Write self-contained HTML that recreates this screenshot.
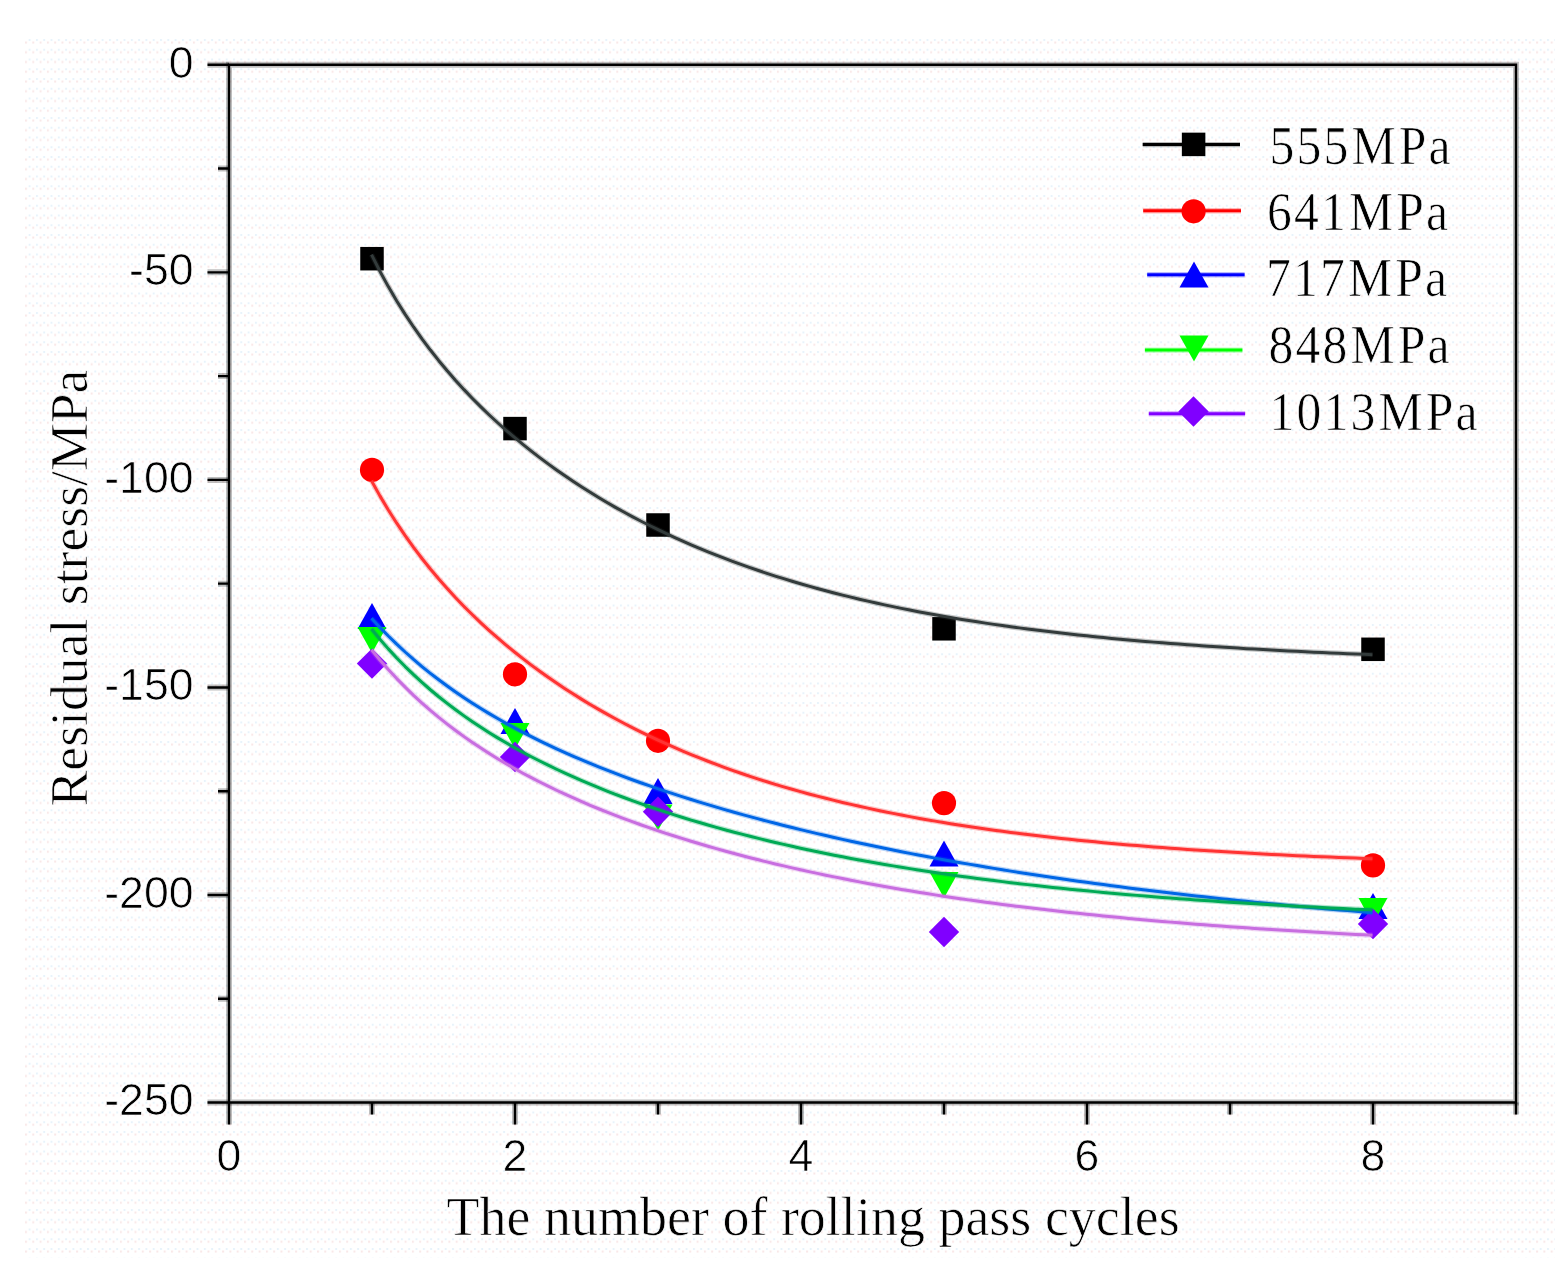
<!DOCTYPE html>
<html><head><meta charset="utf-8"><title>Residual stress vs rolling pass cycles</title>
<style>html,body{margin:0;padding:0;background:#fff;}svg{display:block;}</style></head>
<body>
<svg width="1561" height="1277" viewBox="0 0 1561 1277"><style>.t{stroke:#fff;stroke-width:0.7px;paint-order:fill stroke;}</style>
<rect width="1561" height="1277" fill="#fff"/>
<defs><pattern id="dots" x="25" y="39" width="7.3" height="9.75" patternUnits="userSpaceOnUse"><rect x="0" y="2.5" width="2" height="2" fill="#f9e7e7"/><rect x="3.6" y="0" width="2" height="2" fill="#e8f3fb"/></pattern></defs>
<rect x="25" y="39" width="1530" height="1219" fill="url(#dots)"/>
<rect x="360.25" y="246.95" width="23.5" height="23.5" fill="#000000"/>
<rect x="503.25" y="416.85" width="23.5" height="23.5" fill="#000000"/>
<rect x="646.25" y="513.25" width="23.5" height="23.5" fill="#000000"/>
<rect x="932.25" y="617.05" width="23.5" height="23.5" fill="#000000"/>
<rect x="1361.25" y="637.55" width="23.5" height="23.5" fill="#000000"/>
<circle cx="372.00" cy="469.90" r="12.1" fill="#ff0000"/>
<circle cx="515.00" cy="674.30" r="12.1" fill="#ff0000"/>
<circle cx="658.00" cy="740.80" r="12.1" fill="#ff0000"/>
<circle cx="944.00" cy="803.10" r="12.1" fill="#ff0000"/>
<circle cx="1373.00" cy="865.40" r="12.1" fill="#ff0000"/>
<polygon points="372.00,603.00 386.50,629.00 357.50,629.00" fill="#0000ff"/>
<polygon points="515.00,708.00 529.50,734.00 500.50,734.00" fill="#0000ff"/>
<polygon points="658.00,778.00 672.50,804.00 643.50,804.00" fill="#0000ff"/>
<polygon points="944.00,840.60 958.50,866.60 929.50,866.60" fill="#0000ff"/>
<polygon points="1373.00,893.00 1387.50,919.00 1358.50,919.00" fill="#0000ff"/>
<polygon points="357.50,627.00 386.50,627.00 372.00,653.00" fill="#00ff00"/>
<polygon points="500.50,723.00 529.50,723.00 515.00,749.00" fill="#00ff00"/>
<polygon points="643.50,804.50 672.50,804.50 658.00,830.50" fill="#00ff00"/>
<polygon points="929.50,872.00 958.50,872.00 944.00,898.00" fill="#00ff00"/>
<polygon points="1358.50,898.00 1387.50,898.00 1373.00,924.00" fill="#00ff00"/>
<polygon points="372.00,648.40 387.20,663.60 372.00,678.80 356.80,663.60" fill="#8000ff"/>
<polygon points="515.00,741.80 530.20,757.00 515.00,772.20 499.80,757.00" fill="#8000ff"/>
<polygon points="658.00,796.50 673.20,811.70 658.00,826.90 642.80,811.70" fill="#8000ff"/>
<polygon points="944.00,916.80 959.20,932.00 944.00,947.20 928.80,932.00" fill="#8000ff"/>
<polygon points="1373.00,908.80 1388.20,924.00 1373.00,939.20 1357.80,924.00" fill="#8000ff"/>
<polyline points="371.50,254.60 379.91,271.20 388.32,286.60 396.74,300.95 405.15,314.37 413.56,326.97 421.97,338.84 430.38,350.05 438.79,360.69 447.21,370.80 455.62,380.44 464.03,389.64 472.44,398.44 480.85,406.88 489.26,414.98 497.68,422.76 506.09,430.26 514.50,437.48 522.91,444.44 531.32,451.16 539.74,457.65 548.15,463.92 556.56,469.98 564.97,475.85 573.38,481.53 581.79,487.03 590.21,492.35 598.62,497.51 607.03,502.50 615.44,507.35 623.85,512.04 632.26,516.59 640.68,521.01 649.09,525.28 657.50,529.43 665.91,533.46 674.32,537.36 682.74,541.15 691.15,544.83 699.56,548.39 707.97,551.85 716.38,555.20 724.79,558.46 733.21,561.62 741.62,564.68 750.03,567.65 758.44,570.54 766.85,573.34 775.26,576.06 783.68,578.69 792.09,581.25 800.50,583.74 808.91,586.14 817.32,588.48 825.74,590.75 834.15,592.95 842.56,595.09 850.97,597.16 859.38,599.18 867.79,601.13 876.21,603.02 884.62,604.86 893.03,606.65 901.44,608.38 909.85,610.06 918.26,611.69 926.68,613.27 935.09,614.81 943.50,616.30 951.91,617.75 960.32,619.15 968.74,620.51 977.15,621.83 985.56,623.12 993.97,624.36 1002.38,625.57 1010.79,626.74 1019.21,627.88 1027.62,628.99 1036.03,630.06 1044.44,631.10 1052.85,632.11 1061.26,633.09 1069.68,634.04 1078.09,634.96 1086.50,635.86 1094.91,636.72 1103.32,637.57 1111.74,638.39 1120.15,639.18 1128.56,639.95 1136.97,640.70 1145.38,641.42 1153.79,642.13 1162.21,642.81 1170.62,643.47 1179.03,644.12 1187.44,644.74 1195.85,645.35 1204.26,645.94 1212.68,646.51 1221.09,647.06 1229.50,647.60 1237.91,648.12 1246.32,648.63 1254.74,649.12 1263.15,649.60 1271.56,650.06 1279.97,650.51 1288.38,650.94 1296.79,651.37 1305.21,651.78 1313.62,652.18 1322.03,652.56 1330.44,652.94 1338.85,653.30 1347.26,653.65 1355.68,654.00 1364.09,654.33 1372.50,654.65" fill="none" stroke="#333b3b" stroke-opacity="0.28" stroke-width="5.4" stroke-linejoin="round"/>
<polyline points="371.50,254.60 379.91,271.20 388.32,286.60 396.74,300.95 405.15,314.37 413.56,326.97 421.97,338.84 430.38,350.05 438.79,360.69 447.21,370.80 455.62,380.44 464.03,389.64 472.44,398.44 480.85,406.88 489.26,414.98 497.68,422.76 506.09,430.26 514.50,437.48 522.91,444.44 531.32,451.16 539.74,457.65 548.15,463.92 556.56,469.98 564.97,475.85 573.38,481.53 581.79,487.03 590.21,492.35 598.62,497.51 607.03,502.50 615.44,507.35 623.85,512.04 632.26,516.59 640.68,521.01 649.09,525.28 657.50,529.43 665.91,533.46 674.32,537.36 682.74,541.15 691.15,544.83 699.56,548.39 707.97,551.85 716.38,555.20 724.79,558.46 733.21,561.62 741.62,564.68 750.03,567.65 758.44,570.54 766.85,573.34 775.26,576.06 783.68,578.69 792.09,581.25 800.50,583.74 808.91,586.14 817.32,588.48 825.74,590.75 834.15,592.95 842.56,595.09 850.97,597.16 859.38,599.18 867.79,601.13 876.21,603.02 884.62,604.86 893.03,606.65 901.44,608.38 909.85,610.06 918.26,611.69 926.68,613.27 935.09,614.81 943.50,616.30 951.91,617.75 960.32,619.15 968.74,620.51 977.15,621.83 985.56,623.12 993.97,624.36 1002.38,625.57 1010.79,626.74 1019.21,627.88 1027.62,628.99 1036.03,630.06 1044.44,631.10 1052.85,632.11 1061.26,633.09 1069.68,634.04 1078.09,634.96 1086.50,635.86 1094.91,636.72 1103.32,637.57 1111.74,638.39 1120.15,639.18 1128.56,639.95 1136.97,640.70 1145.38,641.42 1153.79,642.13 1162.21,642.81 1170.62,643.47 1179.03,644.12 1187.44,644.74 1195.85,645.35 1204.26,645.94 1212.68,646.51 1221.09,647.06 1229.50,647.60 1237.91,648.12 1246.32,648.63 1254.74,649.12 1263.15,649.60 1271.56,650.06 1279.97,650.51 1288.38,650.94 1296.79,651.37 1305.21,651.78 1313.62,652.18 1322.03,652.56 1330.44,652.94 1338.85,653.30 1347.26,653.65 1355.68,654.00 1364.09,654.33 1372.50,654.65" fill="none" stroke="#333b3b" stroke-width="3" stroke-linejoin="round"/>
<polyline points="371.50,480.74 379.91,495.86 388.32,509.98 396.74,523.20 405.15,535.64 413.56,547.37 421.97,558.48 430.38,569.01 438.79,579.03 447.21,588.57 455.62,597.70 464.03,606.42 472.44,614.79 480.85,622.82 489.26,630.53 497.68,637.96 506.09,645.11 514.50,652.00 522.91,658.65 531.32,665.08 539.74,671.28 548.15,677.28 556.56,683.07 564.97,688.68 573.38,694.11 581.79,699.37 590.21,704.46 598.62,709.39 607.03,714.17 615.44,718.79 623.85,723.28 632.26,727.63 640.68,731.84 649.09,735.93 657.50,739.89 665.91,743.73 674.32,747.46 682.74,751.07 691.15,754.58 699.56,757.98 707.97,761.27 716.38,764.47 724.79,767.57 733.21,770.58 741.62,773.50 750.03,776.34 758.44,779.08 766.85,781.75 775.26,784.33 783.68,786.84 792.09,789.28 800.50,791.64 808.91,793.93 817.32,796.15 825.74,798.31 834.15,800.40 842.56,802.43 850.97,804.40 859.38,806.31 867.79,808.16 876.21,809.96 884.62,811.71 893.03,813.40 901.44,815.04 909.85,816.64 918.26,818.18 926.68,819.68 935.09,821.14 943.50,822.55 951.91,823.92 960.32,825.25 968.74,826.54 977.15,827.79 985.56,829.00 993.97,830.18 1002.38,831.32 1010.79,832.43 1019.21,833.51 1027.62,834.55 1036.03,835.57 1044.44,836.55 1052.85,837.50 1061.26,838.43 1069.68,839.32 1078.09,840.19 1086.50,841.04 1094.91,841.86 1103.32,842.65 1111.74,843.43 1120.15,844.17 1128.56,844.90 1136.97,845.61 1145.38,846.29 1153.79,846.95 1162.21,847.60 1170.62,848.22 1179.03,848.83 1187.44,849.41 1195.85,849.98 1204.26,850.54 1212.68,851.07 1221.09,851.60 1229.50,852.10 1237.91,852.59 1246.32,853.07 1254.74,853.53 1263.15,853.98 1271.56,854.41 1279.97,854.83 1288.38,855.24 1296.79,855.64 1305.21,856.02 1313.62,856.40 1322.03,856.76 1330.44,857.11 1338.85,857.45 1347.26,857.78 1355.68,858.11 1364.09,858.42 1372.50,858.72" fill="none" stroke="#ff3333" stroke-opacity="0.28" stroke-width="5.4" stroke-linejoin="round"/>
<polyline points="371.50,480.74 379.91,495.86 388.32,509.98 396.74,523.20 405.15,535.64 413.56,547.37 421.97,558.48 430.38,569.01 438.79,579.03 447.21,588.57 455.62,597.70 464.03,606.42 472.44,614.79 480.85,622.82 489.26,630.53 497.68,637.96 506.09,645.11 514.50,652.00 522.91,658.65 531.32,665.08 539.74,671.28 548.15,677.28 556.56,683.07 564.97,688.68 573.38,694.11 581.79,699.37 590.21,704.46 598.62,709.39 607.03,714.17 615.44,718.79 623.85,723.28 632.26,727.63 640.68,731.84 649.09,735.93 657.50,739.89 665.91,743.73 674.32,747.46 682.74,751.07 691.15,754.58 699.56,757.98 707.97,761.27 716.38,764.47 724.79,767.57 733.21,770.58 741.62,773.50 750.03,776.34 758.44,779.08 766.85,781.75 775.26,784.33 783.68,786.84 792.09,789.28 800.50,791.64 808.91,793.93 817.32,796.15 825.74,798.31 834.15,800.40 842.56,802.43 850.97,804.40 859.38,806.31 867.79,808.16 876.21,809.96 884.62,811.71 893.03,813.40 901.44,815.04 909.85,816.64 918.26,818.18 926.68,819.68 935.09,821.14 943.50,822.55 951.91,823.92 960.32,825.25 968.74,826.54 977.15,827.79 985.56,829.00 993.97,830.18 1002.38,831.32 1010.79,832.43 1019.21,833.51 1027.62,834.55 1036.03,835.57 1044.44,836.55 1052.85,837.50 1061.26,838.43 1069.68,839.32 1078.09,840.19 1086.50,841.04 1094.91,841.86 1103.32,842.65 1111.74,843.43 1120.15,844.17 1128.56,844.90 1136.97,845.61 1145.38,846.29 1153.79,846.95 1162.21,847.60 1170.62,848.22 1179.03,848.83 1187.44,849.41 1195.85,849.98 1204.26,850.54 1212.68,851.07 1221.09,851.60 1229.50,852.10 1237.91,852.59 1246.32,853.07 1254.74,853.53 1263.15,853.98 1271.56,854.41 1279.97,854.83 1288.38,855.24 1296.79,855.64 1305.21,856.02 1313.62,856.40 1322.03,856.76 1330.44,857.11 1338.85,857.45 1347.26,857.78 1355.68,858.11 1364.09,858.42 1372.50,858.72" fill="none" stroke="#ff3333" stroke-width="3" stroke-linejoin="round"/>
<polyline points="371.50,618.35 379.91,627.41 388.32,636.02 396.74,644.20 405.15,652.00 413.56,659.44 421.97,666.53 430.38,673.32 438.79,679.81 447.21,686.03 455.62,692.00 464.03,697.73 472.44,703.24 480.85,708.54 489.26,713.65 497.68,718.57 506.09,723.33 514.50,727.93 522.91,732.37 531.32,736.68 539.74,740.85 548.15,744.89 556.56,748.82 564.97,752.63 573.38,756.34 581.79,759.95 590.21,763.46 598.62,766.88 607.03,770.21 615.44,773.46 623.85,776.63 632.26,779.72 640.68,782.75 649.09,785.70 657.50,788.59 665.91,791.41 674.32,794.18 682.74,796.88 691.15,799.53 699.56,802.12 707.97,804.67 716.38,807.16 724.79,809.60 733.21,811.99 741.62,814.34 750.03,816.64 758.44,818.90 766.85,821.12 775.26,823.30 783.68,825.43 792.09,827.53 800.50,829.59 808.91,831.62 817.32,833.60 825.74,835.56 834.15,837.48 842.56,839.36 850.97,841.22 859.38,843.04 867.79,844.83 876.21,846.59 884.62,848.32 893.03,850.03 901.44,851.70 909.85,853.35 918.26,854.96 926.68,856.56 935.09,858.12 943.50,859.66 951.91,861.18 960.32,862.67 968.74,864.13 977.15,865.57 985.56,866.99 993.97,868.39 1002.38,869.76 1010.79,871.11 1019.21,872.44 1027.62,873.75 1036.03,875.03 1044.44,876.30 1052.85,877.54 1061.26,878.77 1069.68,879.97 1078.09,881.16 1086.50,882.33 1094.91,883.48 1103.32,884.61 1111.74,885.72 1120.15,886.81 1128.56,887.89 1136.97,888.95 1145.38,890.00 1153.79,891.02 1162.21,892.03 1170.62,893.03 1179.03,894.01 1187.44,894.97 1195.85,895.92 1204.26,896.85 1212.68,897.77 1221.09,898.67 1229.50,899.56 1237.91,900.44 1246.32,901.30 1254.74,902.14 1263.15,902.98 1271.56,903.80 1279.97,904.61 1288.38,905.40 1296.79,906.18 1305.21,906.96 1313.62,907.71 1322.03,908.46 1330.44,909.19 1338.85,909.92 1347.26,910.63 1355.68,911.33 1364.09,912.02 1372.50,912.69" fill="none" stroke="#0066e6" stroke-opacity="0.28" stroke-width="5.4" stroke-linejoin="round"/>
<polyline points="371.50,618.35 379.91,627.41 388.32,636.02 396.74,644.20 405.15,652.00 413.56,659.44 421.97,666.53 430.38,673.32 438.79,679.81 447.21,686.03 455.62,692.00 464.03,697.73 472.44,703.24 480.85,708.54 489.26,713.65 497.68,718.57 506.09,723.33 514.50,727.93 522.91,732.37 531.32,736.68 539.74,740.85 548.15,744.89 556.56,748.82 564.97,752.63 573.38,756.34 581.79,759.95 590.21,763.46 598.62,766.88 607.03,770.21 615.44,773.46 623.85,776.63 632.26,779.72 640.68,782.75 649.09,785.70 657.50,788.59 665.91,791.41 674.32,794.18 682.74,796.88 691.15,799.53 699.56,802.12 707.97,804.67 716.38,807.16 724.79,809.60 733.21,811.99 741.62,814.34 750.03,816.64 758.44,818.90 766.85,821.12 775.26,823.30 783.68,825.43 792.09,827.53 800.50,829.59 808.91,831.62 817.32,833.60 825.74,835.56 834.15,837.48 842.56,839.36 850.97,841.22 859.38,843.04 867.79,844.83 876.21,846.59 884.62,848.32 893.03,850.03 901.44,851.70 909.85,853.35 918.26,854.96 926.68,856.56 935.09,858.12 943.50,859.66 951.91,861.18 960.32,862.67 968.74,864.13 977.15,865.57 985.56,866.99 993.97,868.39 1002.38,869.76 1010.79,871.11 1019.21,872.44 1027.62,873.75 1036.03,875.03 1044.44,876.30 1052.85,877.54 1061.26,878.77 1069.68,879.97 1078.09,881.16 1086.50,882.33 1094.91,883.48 1103.32,884.61 1111.74,885.72 1120.15,886.81 1128.56,887.89 1136.97,888.95 1145.38,890.00 1153.79,891.02 1162.21,892.03 1170.62,893.03 1179.03,894.01 1187.44,894.97 1195.85,895.92 1204.26,896.85 1212.68,897.77 1221.09,898.67 1229.50,899.56 1237.91,900.44 1246.32,901.30 1254.74,902.14 1263.15,902.98 1271.56,903.80 1279.97,904.61 1288.38,905.40 1296.79,906.18 1305.21,906.96 1313.62,907.71 1322.03,908.46 1330.44,909.19 1338.85,909.92 1347.26,910.63 1355.68,911.33 1364.09,912.02 1372.50,912.69" fill="none" stroke="#0066e6" stroke-width="3" stroke-linejoin="round"/>
<polyline points="371.50,629.02 379.91,639.24 388.32,648.87 396.74,657.96 405.15,666.55 413.56,674.69 421.97,682.41 430.38,689.75 438.79,696.74 447.21,703.41 455.62,709.78 464.03,715.87 472.44,721.71 480.85,727.30 489.26,732.68 497.68,737.85 506.09,742.83 514.50,747.62 522.91,752.25 531.32,756.72 539.74,761.03 548.15,765.21 556.56,769.25 564.97,773.16 573.38,776.96 581.79,780.64 590.21,784.21 598.62,787.68 607.03,791.04 615.44,794.32 623.85,797.50 632.26,800.59 640.68,803.60 649.09,806.53 657.50,809.38 665.91,812.16 674.32,814.86 682.74,817.50 691.15,820.06 699.56,822.56 707.97,825.00 716.38,827.38 724.79,829.70 733.21,831.96 741.62,834.17 750.03,836.32 758.44,838.41 766.85,840.46 775.26,842.46 783.68,844.41 792.09,846.31 800.50,848.17 808.91,849.98 817.32,851.75 825.74,853.47 834.15,855.16 842.56,856.80 850.97,858.41 859.38,859.98 867.79,861.51 876.21,863.00 884.62,864.46 893.03,865.89 901.44,867.28 909.85,868.63 918.26,869.96 926.68,871.26 935.09,872.52 943.50,873.75 951.91,874.96 960.32,876.14 968.74,877.29 977.15,878.41 985.56,879.51 993.97,880.58 1002.38,881.62 1010.79,882.64 1019.21,883.64 1027.62,884.62 1036.03,885.57 1044.44,886.50 1052.85,887.40 1061.26,888.29 1069.68,889.15 1078.09,890.00 1086.50,890.82 1094.91,891.63 1103.32,892.42 1111.74,893.18 1120.15,893.94 1128.56,894.67 1136.97,895.38 1145.38,896.08 1153.79,896.77 1162.21,897.43 1170.62,898.08 1179.03,898.72 1187.44,899.34 1195.85,899.95 1204.26,900.54 1212.68,901.12 1221.09,901.68 1229.50,902.24 1237.91,902.78 1246.32,903.30 1254.74,903.82 1263.15,904.32 1271.56,904.81 1279.97,905.29 1288.38,905.76 1296.79,906.21 1305.21,906.66 1313.62,907.09 1322.03,907.52 1330.44,907.94 1338.85,908.34 1347.26,908.74 1355.68,909.13 1364.09,909.50 1372.50,909.87" fill="none" stroke="#00aa55" stroke-opacity="0.28" stroke-width="5.4" stroke-linejoin="round"/>
<polyline points="371.50,629.02 379.91,639.24 388.32,648.87 396.74,657.96 405.15,666.55 413.56,674.69 421.97,682.41 430.38,689.75 438.79,696.74 447.21,703.41 455.62,709.78 464.03,715.87 472.44,721.71 480.85,727.30 489.26,732.68 497.68,737.85 506.09,742.83 514.50,747.62 522.91,752.25 531.32,756.72 539.74,761.03 548.15,765.21 556.56,769.25 564.97,773.16 573.38,776.96 581.79,780.64 590.21,784.21 598.62,787.68 607.03,791.04 615.44,794.32 623.85,797.50 632.26,800.59 640.68,803.60 649.09,806.53 657.50,809.38 665.91,812.16 674.32,814.86 682.74,817.50 691.15,820.06 699.56,822.56 707.97,825.00 716.38,827.38 724.79,829.70 733.21,831.96 741.62,834.17 750.03,836.32 758.44,838.41 766.85,840.46 775.26,842.46 783.68,844.41 792.09,846.31 800.50,848.17 808.91,849.98 817.32,851.75 825.74,853.47 834.15,855.16 842.56,856.80 850.97,858.41 859.38,859.98 867.79,861.51 876.21,863.00 884.62,864.46 893.03,865.89 901.44,867.28 909.85,868.63 918.26,869.96 926.68,871.26 935.09,872.52 943.50,873.75 951.91,874.96 960.32,876.14 968.74,877.29 977.15,878.41 985.56,879.51 993.97,880.58 1002.38,881.62 1010.79,882.64 1019.21,883.64 1027.62,884.62 1036.03,885.57 1044.44,886.50 1052.85,887.40 1061.26,888.29 1069.68,889.15 1078.09,890.00 1086.50,890.82 1094.91,891.63 1103.32,892.42 1111.74,893.18 1120.15,893.94 1128.56,894.67 1136.97,895.38 1145.38,896.08 1153.79,896.77 1162.21,897.43 1170.62,898.08 1179.03,898.72 1187.44,899.34 1195.85,899.95 1204.26,900.54 1212.68,901.12 1221.09,901.68 1229.50,902.24 1237.91,902.78 1246.32,903.30 1254.74,903.82 1263.15,904.32 1271.56,904.81 1279.97,905.29 1288.38,905.76 1296.79,906.21 1305.21,906.66 1313.62,907.09 1322.03,907.52 1330.44,907.94 1338.85,908.34 1347.26,908.74 1355.68,909.13 1364.09,909.50 1372.50,909.87" fill="none" stroke="#00aa55" stroke-width="3" stroke-linejoin="round"/>
<polyline points="371.50,649.83 379.91,659.96 388.32,669.54 396.74,678.59 405.15,687.17 413.56,695.31 421.97,703.04 430.38,710.40 438.79,717.42 447.21,724.11 455.62,730.51 464.03,736.63 472.44,742.50 480.85,748.12 489.26,753.53 497.68,758.72 506.09,763.73 514.50,768.54 522.91,773.19 531.32,777.68 539.74,782.01 548.15,786.20 556.56,790.26 564.97,794.19 573.38,797.99 581.79,801.68 590.21,805.26 598.62,808.74 607.03,812.12 615.44,815.40 623.85,818.59 632.26,821.70 640.68,824.72 649.09,827.66 657.50,830.52 665.91,833.32 674.32,836.03 682.74,838.69 691.15,841.27 699.56,843.79 707.97,846.25 716.38,848.65 724.79,850.99 733.21,853.28 741.62,855.51 750.03,857.69 758.44,859.82 766.85,861.90 775.26,863.93 783.68,865.91 792.09,867.85 800.50,869.74 808.91,871.59 817.32,873.40 825.74,875.17 834.15,876.90 842.56,878.59 850.97,880.24 859.38,881.85 867.79,883.43 876.21,884.97 884.62,886.48 893.03,887.96 901.44,889.40 909.85,890.81 918.26,892.19 926.68,893.54 935.09,894.86 943.50,896.15 951.91,897.41 960.32,898.65 968.74,899.86 977.15,901.04 985.56,902.19 993.97,903.32 1002.38,904.43 1010.79,905.51 1019.21,906.57 1027.62,907.60 1036.03,908.61 1044.44,909.61 1052.85,910.57 1061.26,911.52 1069.68,912.45 1078.09,913.35 1086.50,914.24 1094.91,915.11 1103.32,915.96 1111.74,916.79 1120.15,917.60 1128.56,918.40 1136.97,919.17 1145.38,919.93 1153.79,920.68 1162.21,921.40 1170.62,922.12 1179.03,922.81 1187.44,923.50 1195.85,924.16 1204.26,924.81 1212.68,925.45 1221.09,926.08 1229.50,926.69 1237.91,927.28 1246.32,927.87 1254.74,928.44 1263.15,929.00 1271.56,929.55 1279.97,930.08 1288.38,930.61 1296.79,931.12 1305.21,931.62 1313.62,932.11 1322.03,932.59 1330.44,933.06 1338.85,933.52 1347.26,933.97 1355.68,934.41 1364.09,934.84 1372.50,935.26" fill="none" stroke="#c86ee0" stroke-opacity="0.28" stroke-width="5.4" stroke-linejoin="round"/>
<polyline points="371.50,649.83 379.91,659.96 388.32,669.54 396.74,678.59 405.15,687.17 413.56,695.31 421.97,703.04 430.38,710.40 438.79,717.42 447.21,724.11 455.62,730.51 464.03,736.63 472.44,742.50 480.85,748.12 489.26,753.53 497.68,758.72 506.09,763.73 514.50,768.54 522.91,773.19 531.32,777.68 539.74,782.01 548.15,786.20 556.56,790.26 564.97,794.19 573.38,797.99 581.79,801.68 590.21,805.26 598.62,808.74 607.03,812.12 615.44,815.40 623.85,818.59 632.26,821.70 640.68,824.72 649.09,827.66 657.50,830.52 665.91,833.32 674.32,836.03 682.74,838.69 691.15,841.27 699.56,843.79 707.97,846.25 716.38,848.65 724.79,850.99 733.21,853.28 741.62,855.51 750.03,857.69 758.44,859.82 766.85,861.90 775.26,863.93 783.68,865.91 792.09,867.85 800.50,869.74 808.91,871.59 817.32,873.40 825.74,875.17 834.15,876.90 842.56,878.59 850.97,880.24 859.38,881.85 867.79,883.43 876.21,884.97 884.62,886.48 893.03,887.96 901.44,889.40 909.85,890.81 918.26,892.19 926.68,893.54 935.09,894.86 943.50,896.15 951.91,897.41 960.32,898.65 968.74,899.86 977.15,901.04 985.56,902.19 993.97,903.32 1002.38,904.43 1010.79,905.51 1019.21,906.57 1027.62,907.60 1036.03,908.61 1044.44,909.61 1052.85,910.57 1061.26,911.52 1069.68,912.45 1078.09,913.35 1086.50,914.24 1094.91,915.11 1103.32,915.96 1111.74,916.79 1120.15,917.60 1128.56,918.40 1136.97,919.17 1145.38,919.93 1153.79,920.68 1162.21,921.40 1170.62,922.12 1179.03,922.81 1187.44,923.50 1195.85,924.16 1204.26,924.81 1212.68,925.45 1221.09,926.08 1229.50,926.69 1237.91,927.28 1246.32,927.87 1254.74,928.44 1263.15,929.00 1271.56,929.55 1279.97,930.08 1288.38,930.61 1296.79,931.12 1305.21,931.62 1313.62,932.11 1322.03,932.59 1330.44,933.06 1338.85,933.52 1347.26,933.97 1355.68,934.41 1364.09,934.84 1372.50,935.26" fill="none" stroke="#c86ee0" stroke-width="3" stroke-linejoin="round"/>
<path d="M229.00,64.80 H1516.00 V1102.55 H229.00 Z" fill="none" stroke="#000" stroke-opacity="0.25" stroke-width="6"/>
<path d="M229.00,64.80 H1516.00 V1102.55 H229.00 Z" fill="none" stroke="#000" stroke-width="2.4"/>
<path d="M207.50,64.80 H229.00 M207.50,272.35 H229.00 M207.50,479.90 H229.00 M207.50,687.45 H229.00 M207.50,895.00 H229.00 M207.50,1102.55 H229.00 M218.00,168.57 H229.00 M218.00,376.12 H229.00 M218.00,583.67 H229.00 M218.00,791.22 H229.00 M218.00,998.77 H229.00 M229.00,1102.55 V1124.55 M372.00,1102.55 V1114.55 M515.00,1102.55 V1124.55 M658.00,1102.55 V1114.55 M801.00,1102.55 V1124.55 M944.00,1102.55 V1114.55 M1087.00,1102.55 V1124.55 M1230.00,1102.55 V1114.55 M1373.00,1102.55 V1124.55 M1516.00,1102.55 V1114.55" fill="none" stroke="#000" stroke-opacity="0.25" stroke-width="6"/>
<path d="M207.50,64.80 H229.00 M207.50,272.35 H229.00 M207.50,479.90 H229.00 M207.50,687.45 H229.00 M207.50,895.00 H229.00 M207.50,1102.55 H229.00 M218.00,168.57 H229.00 M218.00,376.12 H229.00 M218.00,583.67 H229.00 M218.00,791.22 H229.00 M218.00,998.77 H229.00 M229.00,1102.55 V1124.55 M372.00,1102.55 V1114.55 M515.00,1102.55 V1124.55 M658.00,1102.55 V1114.55 M801.00,1102.55 V1124.55 M944.00,1102.55 V1114.55 M1087.00,1102.55 V1124.55 M1230.00,1102.55 V1114.55 M1373.00,1102.55 V1124.55 M1516.00,1102.55 V1114.55" fill="none" stroke="#000" stroke-width="2.4"/>
<text class="t" x="193.5" y="77.60" text-anchor="end" font-family="Liberation Sans, Arial, sans-serif" font-size="44.6">0</text>
<text class="t" x="193.5" y="285.15" text-anchor="end" font-family="Liberation Sans, Arial, sans-serif" font-size="44.6">-50</text>
<text class="t" x="193.5" y="492.70" text-anchor="end" font-family="Liberation Sans, Arial, sans-serif" font-size="44.6">-100</text>
<text class="t" x="193.5" y="700.25" text-anchor="end" font-family="Liberation Sans, Arial, sans-serif" font-size="44.6">-150</text>
<text class="t" x="193.5" y="907.80" text-anchor="end" font-family="Liberation Sans, Arial, sans-serif" font-size="44.6">-200</text>
<text class="t" x="193.5" y="1115.35" text-anchor="end" font-family="Liberation Sans, Arial, sans-serif" font-size="44.6">-250</text>
<text class="t" x="229.00" y="1170.9" text-anchor="middle" font-family="Liberation Sans, Arial, sans-serif" font-size="44.6">0</text>
<text class="t" x="515.00" y="1170.9" text-anchor="middle" font-family="Liberation Sans, Arial, sans-serif" font-size="44.6">2</text>
<text class="t" x="801.00" y="1170.9" text-anchor="middle" font-family="Liberation Sans, Arial, sans-serif" font-size="44.6">4</text>
<text class="t" x="1087.00" y="1170.9" text-anchor="middle" font-family="Liberation Sans, Arial, sans-serif" font-size="44.6">6</text>
<text class="t" x="1373.00" y="1170.9" text-anchor="middle" font-family="Liberation Sans, Arial, sans-serif" font-size="44.6">8</text>
<text class="t" x="446.5" y="1234.5" font-family="Liberation Serif, Times New Roman, serif" font-size="54">The number of rolling pass cycles</text>
<text class="t" transform="translate(87,806.5) rotate(-90)" font-family="Liberation Serif, Times New Roman, serif" font-size="53.7">Residual stress/MPa</text>
<line x1="1142.7" y1="144.6" x2="1240.0" y2="144.6" stroke="#000" stroke-opacity="0.28" stroke-width="5.4"/>
<line x1="1142.7" y1="144.6" x2="1240.0" y2="144.6" stroke="#000" stroke-width="3"/>
<rect x="1181.85" y="132.65" width="23.5" height="23.5" fill="#000000"/>
<text class="t" transform="translate(1268.5,163.6) scale(0.92,1)" x="1.17 30.52 59.87 90.13 141.52 173.87" y="0" font-family="Liberation Serif, Times New Roman, serif" font-size="54">555MPa</text>
<line x1="1143.2" y1="210.8" x2="1241.0" y2="210.8" stroke="#ff0000" stroke-opacity="0.28" stroke-width="5.4"/>
<line x1="1143.2" y1="210.8" x2="1241.0" y2="210.8" stroke="#ff0000" stroke-width="3"/>
<circle cx="1193.60" cy="211.30" r="12.1" fill="#ff0000"/>
<text class="t" transform="translate(1266,229.5) scale(0.92,1)" x="1.17 30.52 59.87 90.13 141.52 173.87" y="0" font-family="Liberation Serif, Times New Roman, serif" font-size="54">641MPa</text>
<line x1="1147.2" y1="274.8" x2="1244.6" y2="274.8" stroke="#0000ff" stroke-opacity="0.28" stroke-width="5.4"/>
<line x1="1147.2" y1="274.8" x2="1244.6" y2="274.8" stroke="#0000ff" stroke-width="3"/>
<polygon points="1194.00,261.50 1208.50,287.50 1179.50,287.50" fill="#0000ff"/>
<text class="t" transform="translate(1265,296.4) scale(0.92,1)" x="1.17 30.52 59.87 90.13 141.52 173.87" y="0" font-family="Liberation Serif, Times New Roman, serif" font-size="54">717MPa</text>
<line x1="1144.9" y1="350.1" x2="1242.4" y2="350.1" stroke="#00ff00" stroke-opacity="0.28" stroke-width="5.4"/>
<line x1="1144.9" y1="350.1" x2="1242.4" y2="350.1" stroke="#00ff00" stroke-width="3"/>
<polygon points="1179.50,335.60 1208.50,335.60 1194.00,361.60" fill="#00ff00"/>
<text class="t" transform="translate(1267.5,362.9) scale(0.92,1)" x="1.17 30.52 59.87 90.13 141.52 173.87" y="0" font-family="Liberation Serif, Times New Roman, serif" font-size="54">848MPa</text>
<line x1="1148.8" y1="413.8" x2="1245.1" y2="413.8" stroke="#8000ff" stroke-opacity="0.28" stroke-width="5.4"/>
<line x1="1148.8" y1="413.8" x2="1245.1" y2="413.8" stroke="#8000ff" stroke-width="3"/>
<polygon points="1193.50,396.30 1208.70,411.50 1193.50,426.70 1178.30,411.50" fill="#8000ff"/>
<text class="t" transform="translate(1268.5,429.5) scale(0.92,1)" x="1.17 30.52 59.87 89.22 119.48 170.87 203.22" y="0" font-family="Liberation Serif, Times New Roman, serif" font-size="54">1013MPa</text></svg>
</body></html>
